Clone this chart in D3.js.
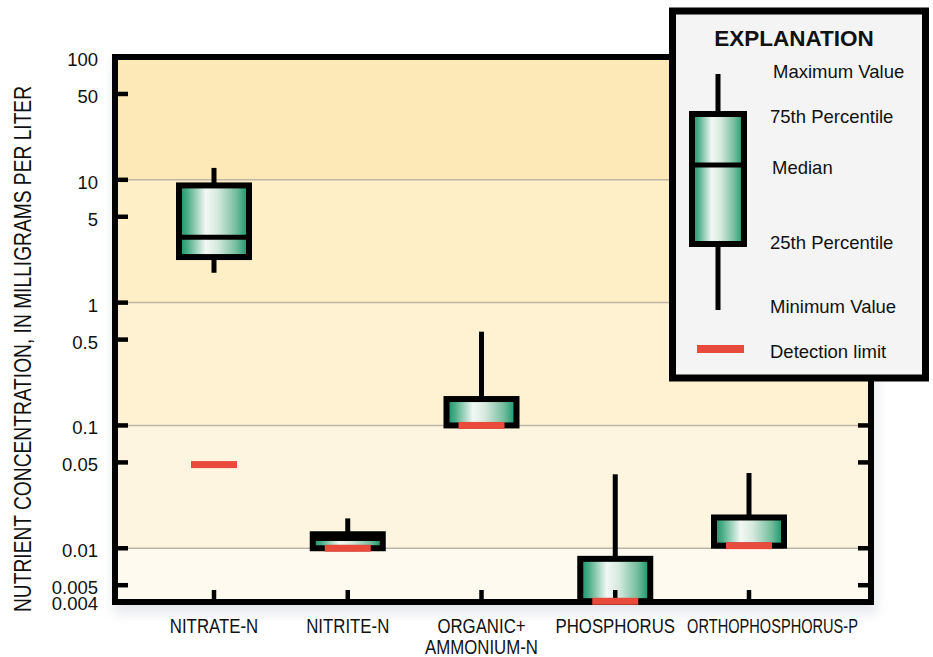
<!DOCTYPE html>
<html>
<head>
<meta charset="utf-8">
<script src="https://cdn.jsdelivr.net/npm/d3@7"></script>
<style>
  html, body { margin: 0; padding: 0; background: #ffffff; }
  svg { display: block; }
</style>
</head>
<body>
<svg id="chart" width="933" height="657"></svg>
<script>
// ---------------- DATA ----------------
const categories = ["NITRATE-N", "NITRITE-N", "ORGANIC+\nAMMONIUM-N", "PHOSPHORUS", "ORTHOPHOSPHORUS-P"];
const maxValues    = [12.5,  0.0175, 0.58,  0.040,  0.041];
const q3Values     = [9.0,   0.013,  0.164, 0.0082, 0.0178];
const medianValues = [3.4,   0.012,  0.10,  0.0037, 0.0105];
const q1Values     = [2.35,  0.010,  0.10,  0.0037, 0.0105];
const minValues    = [1.75,  0.010,  0.10,  0.0037, 0.0105];
const detectionLimits = [0.048, 0.010, 0.10, 0.0037, 0.0105];

const yTickValues = [100, 50, 10, 5, 1, 0.5, 0.1, 0.05, 0.01, 0.005, 0.004];
const yTickLabels = ["100", "50", "10", "5", "1", "0.5", "0.1", "0.05", "0.01", "0.005", "0.004"];
const gridValues = [10, 1, 0.1, 0.01];
const yDomain = [0.00365, 100];

const yTitle = "NUTRIENT CONCENTRATION, IN MILLIGRAMS PER LITER";
const legendTitle = "EXPLANATION";
const legendLabels = ["Maximum Value", "75th Percentile", "Median", "25th Percentile", "Minimum Value", "Detection limit"];

// ---------------- LAYOUT ----------------
const plot = { left: 115, right: 871, top: 57, bottom: 602 };
const narrow = 0.82; // condensed type used for axis title and category labels
const svg = d3.select("#chart");
const defs = svg.append("defs");

const y = d3.scaleLog().domain(yDomain).range([plot.bottom, plot.top]);
const x = d3.scalePoint().domain(categories).range([214, 749]);

// gradients / filters
const g1 = defs.append("linearGradient").attr("id", "boxGrad").attr("x1", "0%").attr("x2", "100%").attr("y1", "0%").attr("y2", "0%");
[["0%", "#0f9169"], ["12%", "#4aad87"], ["38%", "#f3f8f5"], ["55%", "#d6eadf"], ["82%", "#73bd9c"], ["100%", "#0c9169"]]
  .forEach(([o, c]) => g1.append("stop").attr("offset", o).attr("stop-color", c));

const sh = defs.append("filter").attr("id", "shadow").attr("x", "-10%").attr("y", "-10%").attr("width", "120%").attr("height", "120%");
sh.append("feGaussianBlur").attr("stdDeviation", 6);

// plot shadow
svg.append("rect")
  .attr("x", plot.left - 2).attr("y", plot.top + 2)
  .attr("width", plot.right - plot.left + 8).attr("height", plot.bottom - plot.top + 10)
  .attr("fill", "#d3d7e0").attr("opacity", 0.55).attr("filter", "url(#shadow)");

// decade bands
const bandEdges = [100, 10, 1, 0.1, 0.01, yDomain[0]];
const bandColors = ["#fde9b7", "#feefc7", "#fef2d3", "#fef5e0", "#fffaf0"];
svg.append("g").selectAll("rect").data(d3.pairs(bandEdges)).join("rect")
  .attr("x", plot.left).attr("width", plot.right - plot.left)
  .attr("y", d => y(d[0])).attr("height", d => y(d[1]) - y(d[0]))
  .attr("fill", (d, i) => bandColors[i]);

// grid lines
svg.append("g").selectAll("line").data(gridValues).join("line")
  .attr("x1", plot.left).attr("x2", plot.right)
  .attr("y1", d => y(d)).attr("y2", d => y(d))
  .attr("stroke", "#bdb6a6").attr("stroke-width", 1.5);

// boxes
const rows = categories.map((c, i) => ({
  c, max: maxValues[i], q3: q3Values[i], med: medianValues[i], q1: q1Values[i], min: minValues[i], det: detectionLimits[i]
}));
const boxW = 70;
const bg = svg.append("g");
rows.forEach(r => {
  const cx = x(r.c);
  const g = bg.append("g");
  g.append("line").attr("x1", cx).attr("x2", cx).attr("y1", y(r.max)).attr("y2", y(r.q3))
    .attr("stroke", "#000").attr("stroke-width", 5);
  g.append("line").attr("x1", cx).attr("x2", cx).attr("y1", y(r.q1)).attr("y2", y(r.min))
    .attr("stroke", "#000").attr("stroke-width", 5);
  g.append("rect").attr("x", cx - boxW / 2).attr("width", boxW)
    .attr("y", y(r.q3)).attr("height", y(r.q1) - y(r.q3))
    .attr("fill", "url(#boxGrad)").attr("stroke", "#000").attr("stroke-width", 6);
  g.append("line").attr("x1", cx - boxW / 2).attr("x2", cx + boxW / 2).attr("y1", y(r.med)).attr("y2", y(r.med))
    .attr("stroke", "#000").attr("stroke-width", 5);
});

// frame
svg.append("rect").attr("x", plot.left).attr("y", plot.top)
  .attr("width", plot.right - plot.left).attr("height", plot.bottom - plot.top)
  .attr("fill", "none").attr("stroke", "#000").attr("stroke-width", 6);

// y ticks (inward, both sides)
const tickG = svg.append("g");
const innerTicks = yTickValues.filter(v => v < 100 && v > 0.004);
tickG.selectAll("line.l").data(innerTicks).join("line").attr("class", "l")
  .attr("x1", plot.left).attr("x2", plot.left + 13).attr("y1", d => y(d)).attr("y2", d => y(d))
  .attr("stroke", "#000").attr("stroke-width", 4.5);
tickG.selectAll("line.r").data(innerTicks).join("line").attr("class", "r")
  .attr("x1", plot.right).attr("x2", plot.right - 13).attr("y1", d => y(d)).attr("y2", d => y(d))
  .attr("stroke", "#000").attr("stroke-width", 4.5);
// x ticks (inward)
tickG.selectAll("line.b").data(categories).join("line").attr("class", "b")
  .attr("x1", d => x(d)).attr("x2", d => x(d)).attr("y1", plot.bottom).attr("y2", plot.bottom - 12)
  .attr("stroke", "#000").attr("stroke-width", 4.5);

// detection limits
svg.append("g").selectAll("rect").data(rows).join("rect")
  .attr("x", d => x(d.c) - 23).attr("width", 46)
  .attr("y", d => y(d.det) - 3.5).attr("height", 7)
  .attr("fill", "#e84a3b");

// y tick labels with simple anti-overlap
let prevY = -Infinity;
const labelPos = yTickValues.map(v => {
  let p = y(v) + 2.5;
  if (p - prevY < 15.5) p = prevY + 15.5;
  prevY = p;
  return p;
});
svg.append("g").selectAll("text").data(yTickValues).join("text")
  .attr("x", 98).attr("y", (d, i) => labelPos[i]).attr("dy", "0.35em")
  .attr("text-anchor", "end")
  .attr("font-family", "'Liberation Sans', Arial, Helvetica, sans-serif")
  .attr("font-size", 18.5).attr("fill", "#111")
  .text((d, i) => yTickLabels[i]);

// y title (condensed)
svg.append("text")
  .attr("transform", `translate(31,349) rotate(-90) scale(0.835,1)`)
  .attr("text-anchor", "middle")
  .attr("font-family", "'Liberation Sans', Arial, sans-serif")
  .attr("font-size", 23).attr("fill", "#111")
  .text(yTitle);

// category labels (condensed) with anti-overlap on first line, fitted inside the frame
const catG = svg.append("g")
  .attr("font-family", "'Liberation Sans', Arial, sans-serif")
  .attr("font-size", 20.5).attr("fill", "#111");
let prevRight = -Infinity;
const rightLimit = plot.right - 13;
categories.forEach(c => {
  const lines = c.split("\n");
  const t = catG.append("text").attr("text-anchor", "middle");
  lines.forEach((ln, j) => t.append("tspan").attr("x", 0).attr("y", j * 21).text(ln));
  const rawW = t.select("tspan").node().getComputedTextLength();
  let sx = narrow;
  let w = rawW * sx;
  let left = Math.max(x(c) - w / 2, prevRight + 12);
  if (left + w > rightLimit) { w = rightLimit - left; sx = w / rawW; }
  const cx = left + w / 2;
  t.attr("transform", `translate(${cx},633) scale(${sx},1)`);
  prevRight = cx + w / 2;
});

// ---------------- LEGEND ----------------
const lg = svg.append("g");
lg.append("rect").attr("x", 672.5).attr("y", 11).attr("width", 253).attr("height", 367)
  .attr("fill", "#f4f4f4").attr("stroke", "#000").attr("stroke-width", 7);
lg.append("text").attr("x", 794).attr("y", 46).attr("text-anchor", "middle")
  .attr("font-family", "'Liberation Sans', Arial, sans-serif").attr("font-weight", "bold")
  .attr("font-size", 22.5).attr("fill", "#111").text(legendTitle);
const lx = 718;
lg.append("line").attr("x1", lx).attr("x2", lx).attr("y1", 74).attr("y2", 114).attr("stroke", "#000").attr("stroke-width", 5);
lg.append("line").attr("x1", lx).attr("x2", lx).attr("y1", 244).attr("y2", 310).attr("stroke", "#000").attr("stroke-width", 5);
lg.append("rect").attr("x", lx - 26).attr("width", 52).attr("y", 114).attr("height", 130)
  .attr("fill", "url(#boxGrad)").attr("stroke", "#000").attr("stroke-width", 6);
lg.append("line").attr("x1", lx - 26).attr("x2", lx + 26).attr("y1", 165).attr("y2", 165).attr("stroke", "#000").attr("stroke-width", 5);
lg.append("rect").attr("x", 697).attr("y", 345).attr("width", 47).attr("height", 8).attr("fill", "#e84a3b");
const legendY = [72, 117, 168, 243, 307, 352];
const legendX = [773, 770, 772, 770, 770, 770];
lg.selectAll("text.li").data(legendLabels).join("text").attr("class", "li")
  .attr("x", (d, i) => legendX[i]).attr("y", (d, i) => legendY[i]).attr("dy", "0.35em")
  .attr("font-family", "'Liberation Sans', Arial, sans-serif").attr("font-size", 18.5).attr("fill", "#111")
  .text(d => d);
</script>
</body>
</html>
